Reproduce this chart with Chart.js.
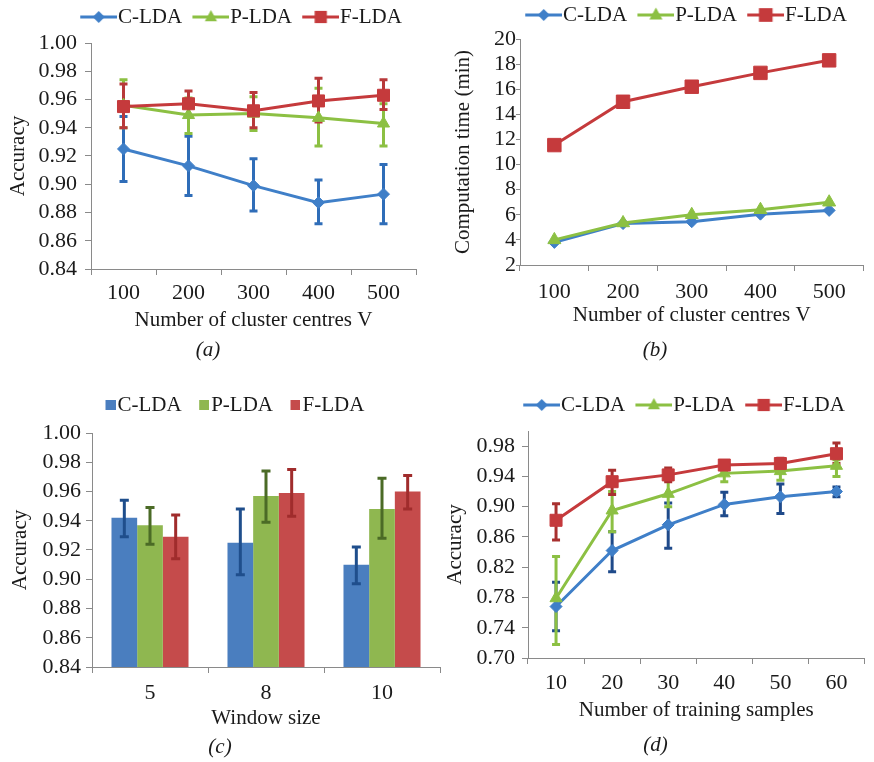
<!DOCTYPE html>
<html><head><meta charset="utf-8">
<script src="https://cdn.jsdelivr.net/npm/chart.js@4.4.1/dist/chart.umd.min.js"></script>
<style>
html,body{margin:0;padding:0;background:#fff;}
#wrap{position:relative;width:874px;height:762px;overflow:hidden;background:#fff;}
canvas{position:absolute;}
</style></head><body>
<div id="wrap">
<canvas id="ca" width="437" height="370" style="left:0px;top:0px"></canvas>
<canvas id="cb" width="437" height="370" style="left:437px;top:0px"></canvas>
<canvas id="cc" width="442" height="382" style="left:0px;top:380px"></canvas>
<canvas id="cd" width="437" height="382" style="left:437px;top:380px"></canvas>
</div>
<script>
// ---------- data ----------
const seriesNames = ['C-LDA', 'P-LDA', 'F-LDA'];

// (a) accuracy vs number of cluster centres
const clusterCentres = ['100', '200', '300', '400', '500'];
const aC = [0.925, 0.913, 0.899, 0.887, 0.893];
const aCLo = [0.902, 0.892, 0.881, 0.872, 0.872];
const aCHi = [0.948, 0.934, 0.918, 0.903, 0.914];
const aP = [0.956, 0.949, 0.950, 0.947, 0.943];
const aPLo = [0.940, 0.936, 0.938, 0.927, 0.927];
const aPHi = [0.974, 0.961, 0.962, 0.968, 0.957];
const aF = [0.955, 0.957, 0.952, 0.959, 0.963];
const aFLo = [0.940, 0.948, 0.940, 0.944, 0.953];
const aFHi = [0.971, 0.966, 0.965, 0.975, 0.974];
const accTicks = [0.84, 0.86, 0.88, 0.90, 0.92, 0.94, 0.96, 0.98, 1.00];

// (b) computation time (min)
const bC = [3.8, 5.3, 5.45, 6.05, 6.35];
const bP = [4.0, 5.35, 6.0, 6.4, 7.0];
const bF = [11.55, 15.0, 16.2, 17.3, 18.3];
const timeTicks = [2, 4, 6, 8, 10, 12, 14, 16, 18, 20];

// (c) accuracy vs window size
const windowSizes = ['5', '8', '10'];
const cC = [0.942, 0.925, 0.910];
const cCLo = [0.929, 0.903, 0.897];
const cCHi = [0.954, 0.948, 0.922];
const cP = [0.937, 0.957, 0.948];
const cPLo = [0.924, 0.939, 0.928];
const cPHi = [0.949, 0.974, 0.969];
const cF = [0.929, 0.959, 0.960];
const cFLo = [0.914, 0.943, 0.948];
const cFHi = [0.944, 0.975, 0.971];

// (d) accuracy vs number of training samples
const trainingSamples = ['10', '20', '30', '40', '50', '60'];
const dC = [0.768, 0.842, 0.876, 0.903, 0.913, 0.920];
const dCLo = [0.736, 0.814, 0.845, 0.888, 0.891, 0.913];
const dCHi = [0.800, 0.867, 0.905, 0.919, 0.930, 0.926];
const dP = [0.779, 0.895, 0.917, 0.944, 0.947, 0.954];
const dPLo = [0.718, 0.867, 0.900, 0.933, 0.935, 0.940];
const dPHi = [0.834, 0.920, 0.935, 0.952, 0.955, 0.962];
const dF = [0.882, 0.933, 0.942, 0.955, 0.957, 0.970];
const dFLo = [0.856, 0.916, 0.933, 0.948, 0.949, 0.957];
const dFHi = [0.904, 0.948, 0.951, 0.961, 0.964, 0.984];
const dTicks = [0.70, 0.74, 0.78, 0.82, 0.86, 0.90, 0.94, 0.98];

// ---------- styles ----------
const FONT = "'Liberation Serif', 'Times New Roman', serif";
const INK = '#1a1a1a';
const AXIS = '#8a8a8a';
const lineColors = ['#3f7fc8', '#8cc043', '#c53a3c'];
const errColorsA = ['#2f6db8', '#8cc043', '#b8393a'];
const errColorsD = ['#1f4a8a', '#8cc043', '#a8302f'];
const barColors = ['#4a7ebf', '#8fb750', '#c54b4b'];
const barErrColors = ['#1f4e8c', '#4b6b26', '#a02c2c'];
const markers = ['rectRot', 'triangle', 'rect'];
const iconShapes = ['diamond', 'triangle', 'square'];

// ---------- plugins ----------
const errorBars = {
  id: 'errorBars',
  beforeDatasetsDraw(chart, args, opts) { if (!opts.onTop) drawErr(chart, opts); },
  afterDatasetsDraw(chart, args, opts) { if (opts.onTop) drawErr(chart, opts); }
};
function drawErr(chart, opts) {
  const ctx = chart.ctx, ys = chart.scales.y;
  const idx = chart.data.datasets.map((d, i) => i).sort((a, b) => (chart.data.datasets[b].order || 0) - (chart.data.datasets[a].order || 0));
  idx.forEach(di => {
    const ds = chart.data.datasets[di];
    if (!ds.errLo) return;
    const meta = chart.getDatasetMeta(di);
    ctx.save();
    ctx.strokeStyle = ds.errColor;
    ctx.lineWidth = opts.width;
    ctx.lineCap = 'butt';
    meta.data.forEach((el, i) => {
      const x = el.x;
      const y1 = ys.getPixelForValue(ds.errLo[i]);
      const y2 = ys.getPixelForValue(ds.errHi[i]);
      ctx.beginPath();
      ctx.moveTo(x, y1); ctx.lineTo(x, y2);
      ctx.moveTo(x - opts.cap, y1); ctx.lineTo(x + opts.cap, y1);
      ctx.moveTo(x - opts.cap, y2); ctx.lineTo(x + opts.cap, y2);
      ctx.stroke();
    });
    ctx.restore();
  });
}
const legendPlace = {
  id: 'legendPlace',
  beforeLayout(chart, args, opts) {
    const lg = chart.legend;
    if (lg && !lg._fitPatched) {
      const orig = lg.fit.bind(lg);
      lg.fit = function () { orig(); if (opts.height != null) this.height = opts.height; };
      lg._fitPatched = true;
    }
  },
  afterLayout(chart, args, opts) {
    const lg = chart.legend;
    if (!lg || !lg.lineWidths) return;
    const pad = lg.options.labels.padding;
    const fs = lg.options.labels.font.size;
    const x0 = (lg.left + pad + lg.right - lg.lineWidths[0]) / 2;
    const dx = opts.x - x0;
    const dy = opts.y - (lg.top + pad + fs / 2);
    lg.left += dx; lg.right += dx; lg.top += dy; lg.bottom += dy;
  }
};

function lineIcon(color, shape, r) {
  const c = document.createElement('canvas');
  c.width = 47; c.height = 22;
  const g = c.getContext('2d');
  g.strokeStyle = color; g.lineWidth = 3;
  g.beginPath(); g.moveTo(10, 11); g.lineTo(47, 11); g.stroke();
  g.fillStyle = color;
  const cx = 28.5, cy = 11;
  g.beginPath();
  if (shape === 'diamond') { g.moveTo(cx, cy - r); g.lineTo(cx + r, cy); g.lineTo(cx, cy + r); g.lineTo(cx - r, cy); }
  else if (shape === 'triangle') { g.moveTo(cx, cy - r); g.lineTo(cx + r * 0.87, cy + r * 0.6); g.lineTo(cx - r * 0.87, cy + r * 0.6); }
  else { const s = r * 0.72; g.rect(cx - s, cy - s, 2 * s, 2 * s); }
  g.closePath(); g.fill();
  return c;
}
function squareIcon(color) {
  const c = document.createElement('canvas');
  c.width = 19; c.height = 20;
  const g = c.getContext('2d');
  g.fillStyle = color;
  g.fillRect(9, 5, 10, 10);
  return c;
}

function tickFont(size) { return { family: FONT, size: size }; }
const titleFont = { family: FONT, size: 21 };

function yAxis(o) {
  return {
    min: o.min, max: o.max,
    afterBuildTicks: s => { s.ticks = o.ticks.map(v => ({ value: v })); },
    afterFit: s => { s.width = o.width; },
    ticks: { font: tickFont(22), color: INK, padding: o.tickPad, callback: o.fmt, autoSkip: false },
    grid: { drawOnChartArea: false, drawTicks: true, tickLength: o.tickLen, color: AXIS, lineWidth: 1 },
    border: { display: true, color: AXIS, width: 1 },
    title: { display: true, text: o.title, font: titleFont, color: INK, padding: { top: o.titlePad, bottom: 0 } }
  };
}
function xAxis(o) {
  return {
    type: 'category', offset: true,
    afterFit: s => { s.height = o.height; },
    ticks: { font: tickFont(22), color: INK, padding: o.tickPad, maxRotation: 0, autoSkip: false },
    grid: { offset: true, drawOnChartArea: false, drawTicks: true, tickLength: 6, color: AXIS, lineWidth: 1 },
    border: { display: true, color: AXIS, width: 1 },
    title: { display: true, text: o.title, font: titleFont, color: INK, padding: { top: 0, bottom: 0 } }
  };
}
function lineLegend(radii) {
  const icons = seriesNames.map((n, i) => lineIcon(lineColors[i], iconShapes[i], radii[i]));
  return {
    display: true, position: 'top', align: 'center',
    labels: {
      usePointStyle: true, pointStyleWidth: 27.5, padding: 10, color: INK,
      font: { family: FONT, size: 21 },
      generateLabels: chart => chart.data.datasets.map((ds, i) => ({
        text: ds.label, pointStyle: icons[i], fillStyle: lineColors[i], strokeStyle: lineColors[i],
        lineWidth: 0, hidden: false, datasetIndex: i, fontColor: INK
      }))
    }
  };
}
function caption(text, pt, pb) {
  return { display: true, position: 'bottom', text: text, color: INK,
    font: { family: FONT, size: 21, style: 'italic', weight: 'normal' }, padding: { top: pt, bottom: pb } };
}
function lineSets(vals, errLo, errHi, errCols, radii) {
  return vals.map((v, i) => ({
    label: seriesNames[i], data: v, order: 3 - i,
    borderColor: lineColors[i], backgroundColor: lineColors[i], borderWidth: 3,
    pointStyle: markers[i], pointRadius: radii[i], pointBackgroundColor: lineColors[i],
    pointBorderColor: lineColors[i], pointBorderWidth: 1, tension: 0, fill: false,
    errLo: errLo ? errLo[i] : null, errHi: errHi ? errHi[i] : null, errColor: errCols ? errCols[i] : null
  }));
}
const common = { responsive: false, animation: false, devicePixelRatio: 1, events: [] };

// ---------- (a) ----------
const radA = [6, 7, 8.5];
new Chart(document.getElementById('ca'), {
  type: 'line',
  data: { labels: clusterCentres, datasets: lineSets([aC, aP, aF], [aCLo, aPLo, aFLo], [aCHi, aPHi, aFHi], errColorsA, radA) },
  options: Object.assign({}, common, {
    layout: { padding: { left: 0, right: 21, top: 0, bottom: 0 } },
    scales: {
      x: xAxis({ height: 64, tickPad: 5, title: 'Number of cluster centres V' }),
      y: yAxis({ min: 0.84, max: 1.00, ticks: accTicks, width: 91, tickPad: 8, tickLen: 6, titlePad: 5.4, title: 'Accuracy', fmt: v => v.toFixed(2) })
    },
    plugins: {
      legend: lineLegend(radA),
      legendPlace: { height: 43, x: 80, y: 17 },
      title: caption('(a)', 4.4, 7.4),
      tooltip: { enabled: false },
      errorBars: { cap: 4, width: 3, onTop: false }
    }
  }),
  plugins: [errorBars, legendPlace]
});

// ---------- (b) ----------
const radB = [6, 7.5, 9.5];
new Chart(document.getElementById('cb'), {
  type: 'line',
  data: { labels: clusterCentres, datasets: lineSets([bC, bP, bF], null, null, null, radB) },
  options: Object.assign({}, common, {
    layout: { padding: { left: 0, right: 1, top: 0, bottom: 0 } },
    scales: {
      x: xAxis({ height: 62.6, tickPad: 7.8, title: 'Number of cluster centres V' }),
      y: yAxis({ min: 2, max: 20, ticks: timeTicks, width: 83, tickPad: 0, tickLen: 4, titlePad: 13.4, title: 'Computation time (min)', fmt: v => String(v) })
    },
    plugins: {
      legend: lineLegend(radB),
      legendPlace: { height: 39, x: 88, y: 15 },
      title: caption('(b)', 9.8, 7.4),
      tooltip: { enabled: false },
      errorBars: { cap: 4, width: 3, onTop: false }
    }
  }),
  plugins: [errorBars, legendPlace]
});

// ---------- (c) ----------
const sqIcons = barColors.map(c => squareIcon(c));
new Chart(document.getElementById('cc'), {
  type: 'bar',
  data: {
    labels: windowSizes,
    datasets: [cC, cP, cF].map((v, i) => ({
      label: seriesNames[i], data: v, backgroundColor: barColors[i], borderWidth: 0,
      categoryPercentage: 0.664, barPercentage: 1.0,
      errLo: [cCLo, cPLo, cFLo][i], errHi: [cCHi, cPHi, cFHi][i], errColor: barErrColors[i]
    }))
  },
  options: Object.assign({}, common, {
    layout: { padding: { left: 0, right: 2, top: 0, bottom: 0 } },
    scales: {
      x: xAxis({ height: 63.6, tickPad: 6.8, title: 'Window size' }),
      y: yAxis({ min: 0.84, max: 1.00, ticks: accTicks, width: 92, tickPad: 5, tickLen: 6, titlePad: 7.4, title: 'Accuracy', fmt: v => v.toFixed(2) })
    },
    plugins: {
      legend: {
        display: true, position: 'top', align: 'center',
        labels: {
          usePointStyle: true, pointStyleWidth: 2, padding: 17, color: INK,
          font: { family: FONT, size: 21 },
          generateLabels: chart => chart.data.datasets.map((ds, i) => ({
            text: ds.label, pointStyle: sqIcons[i], fillStyle: barColors[i], strokeStyle: barColors[i],
            lineWidth: 0, hidden: false, datasetIndex: i, fontColor: INK
          }))
        }
      },
      legendPlace: { height: 53, x: 105, y: 25 },
      title: caption('(c)', 3.8, 2.4),
      tooltip: { enabled: false },
      errorBars: { cap: 4.5, width: 3, onTop: true }
    }
  }),
  plugins: [errorBars, legendPlace]
});

// ---------- (d) ----------
const radD = [6, 7, 8.5];
new Chart(document.getElementById('cd'), {
  type: 'line',
  data: { labels: trainingSamples, datasets: lineSets([dC, dP, dF], [dCLo, dPLo, dFLo], [dCHi, dPHi, dFHi], errColorsD, radD) },
  options: Object.assign({}, common, {
    layout: { padding: { left: 0, right: 0, top: 0, bottom: 0 } },
    scales: {
      x: xAxis({ height: 64.6, tickPad: 5.8, title: 'Number of training samples' }),
      y: yAxis({ min: 0.70, max: 1.00, ticks: dTicks, width: 91, tickPad: 7, tickLen: 6, titlePad: 5.4, title: 'Accuracy', fmt: v => v.toFixed(2) })
    },
    plugins: {
      legend: lineLegend(radD),
      legendPlace: { height: 51, x: 86, y: 25 },
      title: caption('(d)', 9.8, 4.4),
      tooltip: { enabled: false },
      errorBars: { cap: 4, width: 3, onTop: false }
    }
  }),
  plugins: [errorBars, legendPlace]
});
</script>
</body></html>
